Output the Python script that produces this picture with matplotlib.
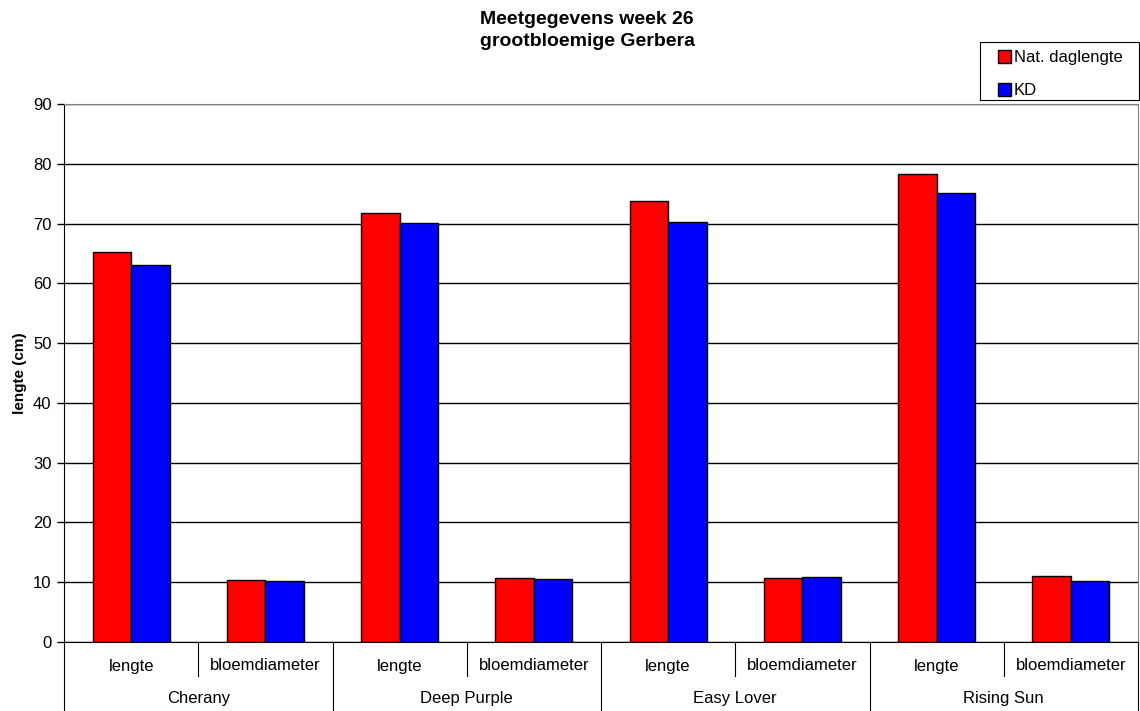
import numpy as np
import matplotlib
matplotlib.use("Agg")
import matplotlib.pyplot as plt
from matplotlib.patches import Patch, Rectangle
import matplotlib.transforms as mtransforms

plt.rcParams['font.family'] = ['Liberation Sans', 'DejaVu Sans']

varieties = ["Cherany", "Deep Purple", "Easy Lover", "Rising Sun"]
measures = ["lengte", "bloemdiameter"]
nat_daglengte = [65.2, 10.3, 71.7, 10.7, 73.7, 10.7, 78.3, 11.0]
kd = [63.1, 10.2, 70.1, 10.5, 70.2, 10.8, 75.1, 10.2]

W, H = 1140, 711
fig = plt.figure(figsize=(W / 100, H / 100), dpi=100)
ax = fig.add_axes([64 / W, (H - 642) / H, (1138 - 64) / W, (642 - 104) / H])

x = np.arange(len(nat_daglengte))
bw = 0.287
ax.bar(x - bw / 2, nat_daglengte, bw, color="#ff0000", edgecolor="black", linewidth=1, zorder=3)
ax.bar(x + bw / 2, kd, bw, color="#0000ff", edgecolor="black", linewidth=1, zorder=3)

ax.set_xlim(-0.5, len(x) - 0.5)
ax.set_ylim(0, 90)
ax.set_yticks(np.arange(0, 91, 10))
ax.yaxis.grid(True, color="black", linewidth=1, zorder=0)
ax.tick_params(axis="y", labelsize=12, length=5, direction="out", width=1, pad=4)
ax.set_xticks([])
for s in ["top", "right"]:
    ax.spines[s].set_color("#808080")
ax.spines["bottom"].set_color("black")
ax.spines["left"].set_color("black")
ax.set_ylabel("lengte (cm)", fontsize=11, fontweight="bold", labelpad=4)

# multi-level category axis
trans = mtransforms.blended_transform_factory(ax.transData, ax.transAxes)
sub_y = -(666 - 642) / 538
grp_y = -(698 - 642) / 538
for i in range(len(x)):
    ax.text(i, sub_y, measures[i % 2], transform=trans, ha="center", va="center", fontsize=12)
for j, v in enumerate(varieties):
    ax.text(2 * j + 0.5, grp_y, v, transform=trans, ha="center", va="center", fontsize=12)
for xs in [0.5, 2.5, 4.5, 6.5]:
    ax.plot([xs, xs], [0, -(676 - 642) / 538], transform=trans, color="black", lw=0.8, clip_on=False)
for xs in [-0.5, 1.5, 3.5, 5.5, 7.5]:
    ax.plot([xs, xs], [0, -(H - 642) / 538], transform=trans, color="black", lw=0.8, clip_on=False)

fig.text(587 / W, 1 - 24 / H, "Meetgegevens week 26", ha="center", va="baseline", fontsize=14, fontweight="bold")
fig.text(587 / W, 1 - 46 / H, "grootbloemige Gerbera", ha="center", va="baseline", fontsize=14, fontweight="bold")

handles = [Patch(facecolor="#ff0000", edgecolor="black"), Patch(facecolor="#0000ff", edgecolor="black")]
leg = fig.legend(handles, ["Nat. daglengte", "KD"], loc="center",
                 bbox_to_anchor=(1060 / W, 1 - 74 / H), fontsize=12, frameon=False,
                 handlelength=0.8, handleheight=0.8, handletextpad=0.15,
                 labelspacing=1.05, borderpad=0, borderaxespad=0)
fig.patches.append(Rectangle((980 / W, 1 - 100 / H), 159 / W, 58 / H, transform=fig.transFigure,
                             facecolor="none", edgecolor="black", linewidth=0.8))

fig.savefig("out.png", dpi=100)
